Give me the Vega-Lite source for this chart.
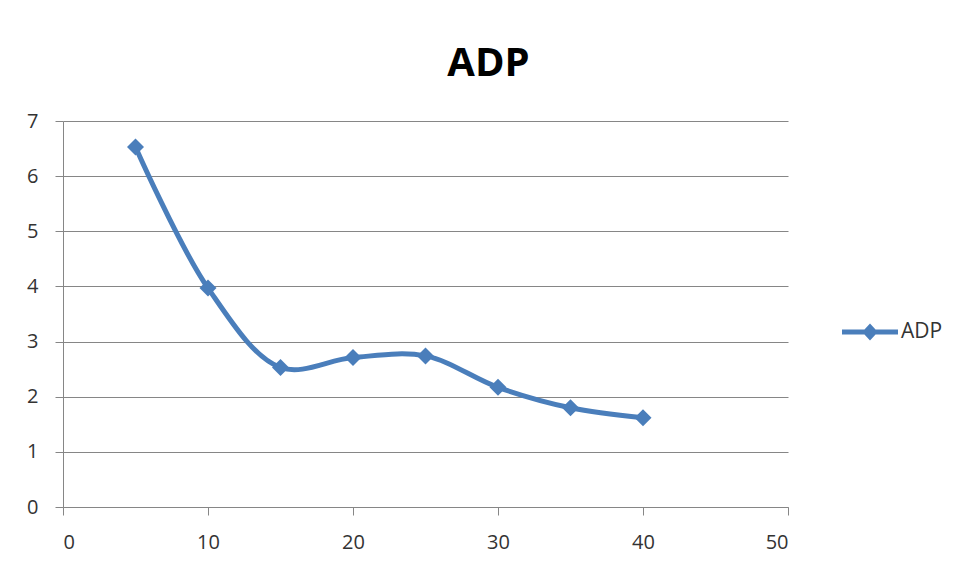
{
  "$schema": "https://vega.github.io/schema/vega-lite/v6.json",
  "autosize": "none",
  "width": 725,
  "height": 386,
  "padding": {"left": 63, "top": 121, "right": 173, "bottom": 63},
  "background": "white",
  "title": {
    "text": "ADP",
    "font": "Open Sans",
    "fontSize": 40,
    "fontWeight": "bold",
    "color": "#000000",
    "anchor": "middle",
    "baseline": "alphabetic",
    "offset": 44,
    "dy": 49,
    "dx": 63
  },
  "data": {
    "values": [
      {"x": 5, "y": 6.53, "series": "ADP"},
      {"x": 10, "y": 3.97, "series": "ADP"},
      {"x": 15, "y": 2.53, "series": "ADP"},
      {"x": 20, "y": 2.71, "series": "ADP"},
      {"x": 25, "y": 2.74, "series": "ADP"},
      {"x": 30, "y": 2.17, "series": "ADP"},
      {"x": 35, "y": 1.80, "series": "ADP"},
      {"x": 40, "y": 1.62, "series": "ADP"}
    ]
  },
  "encoding": {
    "x": {
      "field": "x",
      "type": "quantitative",
      "scale": {"domain": [0, 50], "nice": false, "zero": false},
      "axis": {
        "title": null,
        "values": [0, 10, 20, 30, 40, 50],
        "grid": false,
        "domainColor": "#868686",
        "tickColor": "#868686",
        "tickSize": 8,
        "labelPadding": 17,
        "labelFont": "Open Sans",
        "labelFontSize": 20,
        "labelColor": "#333333"
      }
    },
    "y": {
      "field": "y",
      "type": "quantitative",
      "scale": {"domain": [0, 7], "nice": false},
      "axis": {
        "title": null,
        "values": [0, 1, 2, 3, 4, 5, 6, 7],
        "grid": true,
        "gridColor": "#868686",
        "gridWidth": 1,
        "domainColor": "#868686",
        "tickColor": "#868686",
        "tickSize": 8,
        "labelPadding": 17,
        "labelFont": "Open Sans",
        "labelFontSize": 20,
        "labelColor": "#333333"
      }
    },
    "color": {
      "field": "series",
      "type": "nominal",
      "scale": {"range": ["#4A7EBB"]},
      "legend": {
        "title": null,
        "orient": "none",
        "legendX": 779,
        "legendY": 183,
        "symbolType": "M-1,-0.09L1,-0.09L1,0.09L-1,0.09Z M0,-0.3L0.28,0L0,0.3L-0.28,0Z",
        "symbolSize": 3136,
        "symbolFillColor": "#4A7EBB",
        "symbolStrokeWidth": 0,
        "symbolOpacity": 1,
        "labelFont": "Open Sans",
        "labelFontSize": 21,
        "labelColor": "#333333",
        "labelOffset": 3
      }
    }
  },
  "layer": [
    {
      "mark": {"type": "line", "interpolate": "catmull-rom", "strokeWidth": 5}
    },
    {
      "mark": {"type": "point", "shape": "diamond", "filled": true, "size": 289, "opacity": 1}
    }
  ],
  "config": {
    "view": {"stroke": null}
  }
}
